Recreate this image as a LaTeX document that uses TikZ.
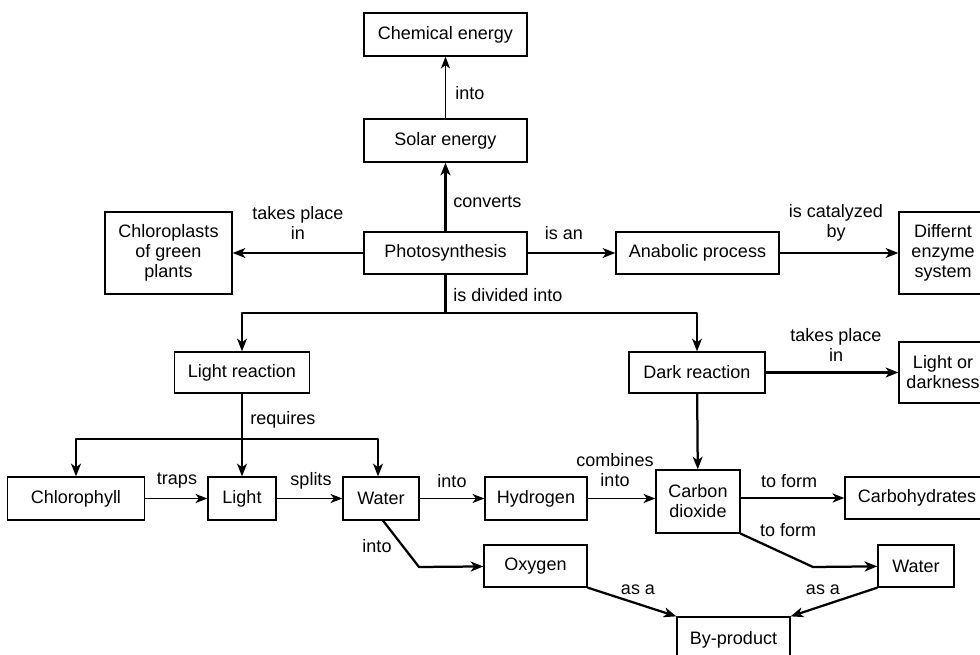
\documentclass[tikz,border=0pt]{standalone}
\usepackage{fontspec}
\setmainfont{Liberation Sans}
\usetikzlibrary{arrows.meta}

\begin{document}
\begin{tikzpicture}[x=0.025cm,y=-0.025cm,
  font=\fontsize{12.8}{14.2}\selectfont,
  box/.style={draw,line width=0.9pt,inner sep=0pt,align=center},
  sz/.style 2 args={minimum width=#1*0.025cm,minimum height=#2*0.025cm},
  lab/.style={inner sep=0pt,align=center},
  link/.style={line width=0.9pt,-{Stealth[length=8.5pt,width=6.5pt,inset=2.5pt]}},
  heavy/.style={line width=1.6pt,line join=round,-{Stealth[length=9pt,width=7pt,inset=2.5pt]}},
  heavyline/.style={line width=1.6pt}]
\useasboundingbox (0,0) rectangle (980,655);
\clip (0,0) rectangle (980,655);
\node[box,sz={163}{43}] (chem) at (445.5,34.5) {Chemical energy};
\node[box,sz={163}{43}] (solar) at (445.5,140.5) {Solar energy};
\node[box,sz={163}{42}] (photo) at (445.5,253) {Photosynthesis};
\node[box,sz={127}{82}] (chloro) at (168.5,253) {Chloroplasts\\of green\\plants};
\node[box,sz={163}{42}] (anab) at (697.5,253) {Anabolic process};
\node[box,sz={88}{82}] (enzyme) at (943,253) {Differnt\\enzyme\\system};
\node[box,sz={135}{41}] (lightr) at (242,372.5) {Light reaction};
\node[box,sz={136}{41}] (darkr) at (697,372.5) {Dark reaction};
\node[box,sz={88}{61}] (lord) at (943,372.5) {Light or\\darkness};
\node[box,sz={137}{43}] (chloph) at (76,498.5) {Chlorophyll};
\node[box,sz={68}{43}] (light) at (242,498.5) {Light};
\node[box,sz={76}{43}] (water) at (381,498.5) {Water};
\node[box,sz={102}{43}] (hydro) at (536,498.5) {Hydrogen};
\node[box,sz={84}{63}] (co2) at (698,501.5) {Carbon\\dioxide};
\node[box,sz={144}{42}] (carbo) at (917,498) {Carbohydrates};
\node[box,sz={103}{42}] (oxy) at (535.5,566) {Oxygen};
\node[box,sz={76}{42}] (water2) at (916,566) {Water};
\node[box,sz={113}{46}] (byprod) at (733.5,640) {By-product};

\coordinate (split) at (445.5,313);
\coordinate (req) at (242,439);
\coordinate (bendO) at (419,567);
\coordinate (bendW) at (813,567);

\draw[link] (solar) -- (chem);
\draw[heavy] (photo) -- (solar);
\draw[heavy] (photo) -- (chloro);
\draw[heavy] (photo) -- (anab);
\draw[heavy] (anab) -- (enzyme);
\draw[heavyline] (photo) -- (split);
\draw[heavy] (split) -| (lightr);
\draw[heavy] (split) -| (darkr);
\draw[heavy] (darkr) -- (lord);
\draw[heavyline] (lightr) -- (req);
\draw[heavy] (req) -| (chloph);
\draw[heavy] (req) -- (light);
\draw[heavy] (req) -| ([xshift=-3*0.025cm]water.north);
\draw[link] (chloph) -- (light);
\draw[link] (light) -- (water);
\draw[link] (water) -- (hydro);
\draw[link] (hydro.east) -- (hydro.east -| co2.west);
\draw[link] (co2.east |- carbo.west) -- (carbo.west);
\draw[heavy] (darkr) -- (co2);
\draw[heavy] ([xshift=2*0.025cm]water.south) -- (bendO) -- (oxy);
\draw[heavy] (co2.south east) -- (bendW) -- (water2);
\draw[heavy] (oxy.south east) -- (byprod.north west);
\draw[heavy] (water2.south west) -- (byprod.north east);

\node[lab,anchor=west] (l1) at (455,93) {into};
\node[lab,anchor=west] (l2) at (453,202) {converts};
\node[lab] (l3) at (298,223) {takes place\\in};
\node[lab] (l4) at (564,233) {is an};
\node[lab] (l5) at (836,223) {is catalyzed\\by};
\node[lab,anchor=west] (l6) at (453,295) {is divided into};
\node[lab] (l7) at (836,345) {takes place\\in};
\node[lab,anchor=west] (l8) at (250,420) {requires};
\node[lab] (l9) at (177,481) {traps};
\node[lab] (l10) at (311,481) {splits};
\node[lab] (l11) at (452,481) {into};
\node[lab] (l12) at (615,470) {combines\\into};
\node[lab] (l13) at (789,481) {to form};
\node[lab] (l14) at (788,530) {to form};
\node[lab] (l15) at (377,546) {into};
\node[lab] (l16) at (638,590) {as a};
\node[lab] (l17) at (823,590) {as a};
\end{tikzpicture}
\end{document}
